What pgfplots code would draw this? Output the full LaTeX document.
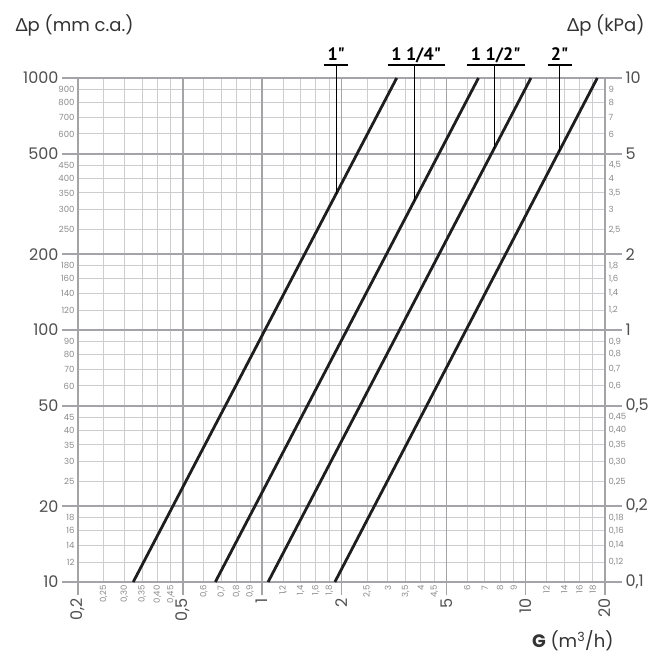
\documentclass[border=0pt]{standalone}
\usepackage{fontspec}
\setmainfont{Poppins}
\newfontfamily\grk{Lato}
\newfontfamily\lab{PT Sans}[Ligatures=TeXOff]
\usepackage{pgfplots}
\pgfplotsset{compat=1.18}

\definecolor{majgrid}{HTML}{A4A4A8}
\definecolor{mingrid}{HTML}{CDCDCF}
\definecolor{curve}{HTML}{1E1E1E}
\definecolor{lbl}{HTML}{505050}
\definecolor{smalllbl}{HTML}{8A8A8A}

\newcommand{\bigf}{\fontsize{16}{16}\selectfont}
\newcommand{\smallf}{\fontsize{8.5}{8.5}\selectfont}
\newcommand{\labf}{\lab\fontsize{18}{18}\selectfont\bfseries}

\begin{document}
\begin{tikzpicture}
\begin{axis}[width=527pt, height=504pt, scale only axis,
    xmode=log, ymode=log,
    xmin=0.2, xmax=20, ymin=10, ymax=1000,
    clip=false,
    axis line style={majgrid, line width=1.6pt},
    xtick pos=bottom, ytick pos=left,
    major tick length=0pt, minor tick length=0pt,
    grid=major,
    major grid style={mingrid, line width=1pt},
    xtick={0.25,0.3,0.35,0.4,0.45,0.6,0.7,0.8,0.9,1.2,1.4,1.6,1.8,2.5,3,3.5,4,4.5,6,7,8,9,12,14,16,18},
    xticklabels={{0,25},{0,30},{0,35},{0,40},{0,45},{0,6},{0,7},{0,8},{0,9},{1,2},{1,4},{1,6},{1,8},{2,5},3,{3,5},4,{4,5},6,7,8,9,12,14,16,18},
    ytick={12,14,16,18,25,30,35,40,45,60,70,80,90,120,140,160,180,250,300,350,400,450,600,700,800,900},
    yticklabels={12,14,16,18,25,30,35,40,45,60,70,80,90,120,140,160,180,250,300,350,400,450,600,700,800,900},
    xticklabel style={rotate=90, anchor=east, font=\smallf, text=smalllbl},
    yticklabel style={font=\smallf, text=smalllbl},
    extra x ticks={0.2,0.5,1,2,5,10,20},
    extra x tick labels={{0,2},{0,5},1,2,5,10,20},
    extra x tick style={grid=major, major grid style={majgrid, line width=1.6pt},
        tick align=outside, major tick length=13pt,
        tick style={majgrid, line width=1.6pt},
        xticklabel style={font=\bigf, text=lbl}},
    extra y ticks={10,20,50,100,200,500,1000},
    extra y tick labels={10,20,50,100,200,500,1000},
    extra y tick style={grid=major, major grid style={majgrid, line width=1.6pt},
        tick align=outside, major tick length=16pt,
        tick style={majgrid, line width=1.6pt},
        yticklabel style={font=\bigf, text=lbl}},
  ]
  \coordinate (ll) at (rel axis cs:0,0);
  \coordinate (ur) at (rel axis cs:1,1);

  % 1"
  \addplot[curve, line width=2.8pt] coordinates {(0.324,10) (3.24,1000)};
  % 1 1/4"
  \addplot[curve, line width=2.8pt] coordinates {(0.664,10) (6.62,1000)};
  % 1 1/2"
  \addplot[curve, line width=2.8pt] coordinates {(1.053,10) (10.47,1000)};
  % 2"
  \addplot[curve, line width=2.8pt] coordinates {(1.887,10) (18.7,1000)};

  % size labels with leaders
  \draw[line width=1.3pt] (axis cs:1.71,1126) -- (axis cs:2.11,1126);
  \draw[line width=1.1pt] (axis cs:1.91,1126) -- (axis cs:1.91,347);
  \node[anchor=base, yshift=5pt, font=\labf] at (axis cs:1.91,1126) {1"};

  \draw[line width=1.3pt] (axis cs:2.99,1126) -- (axis cs:4.92,1126);
  \draw[line width=1.1pt] (axis cs:3.79,1126) -- (axis cs:3.79,326);
  \node[anchor=base, yshift=5pt, font=\labf] at (axis cs:3.84,1126) {1 1/4"};

  \draw[line width=1.3pt] (axis cs:5.98,1126) -- (axis cs:9.92,1126);
  \draw[line width=1.1pt] (axis cs:7.61,1126) -- (axis cs:7.61,522);
  \node[anchor=base, yshift=5pt, font=\labf] at (axis cs:7.7,1126) {1 1/2"};

  \draw[line width=1.3pt] (axis cs:12.1,1126) -- (axis cs:14.96,1126);
  \draw[line width=1.1pt] (axis cs:13.45,1126) -- (axis cs:13.45,508);
  \node[anchor=base, yshift=5pt, font=\labf] at (axis cs:13.45,1126) {2"};

  % axis titles
  \node[anchor=base west, xshift=-66pt, yshift=46pt, font=\fontsize{18}{18}\selectfont, text=black!80]
    at (rel axis cs:0,1) {{\grk Δ}p (mm c.a.)};
  \node[anchor=base east, xshift=43pt, yshift=46pt, font=\fontsize{18}{18}\selectfont, text=black!80]
    at (rel axis cs:1,1) {{\grk Δ}p (kPa)};
  \node[anchor=base east, xshift=12pt, yshift=-66pt, font=\fontsize{18}{18}\selectfont, text=black!80]
    at (rel axis cs:1,0) {{\bfseries G} (m\textsuperscript{3}/h)};
\end{axis}

% right scale in kPa
\begin{axis}[width=527pt, height=504pt, scale only axis,
    xmode=log, ymode=log,
    xmin=0.2, xmax=20, ymin=0.1, ymax=10,
    axis x line=none, axis y line*=right,
    axis line style={-, majgrid, line width=1.6pt},
    major tick length=0pt, minor tick length=0pt,
    ytick={0.12,0.14,0.16,0.18,0.25,0.3,0.35,0.4,0.45,0.6,0.7,0.8,0.9,1.2,1.4,1.6,1.8,2.5,3,3.5,4,4.5,6,7,8,9},
    yticklabels={{0,12},{0,14},{0,16},{0,18},{0,25},{0,30},{0,35},{0,40},{0,45},{0,6},{0,7},{0,8},{0,9},{1,2},{1,4},{1,6},{1,8},{2,5},3,{3,5},4,{4,5},6,7,8,9},
    yticklabel style={font=\smallf, text=smalllbl},
    extra y ticks={0.1,0.2,0.5,1,2,5,10},
    extra y tick labels={{0,1},{0,2},{0,5},1,2,5,10},
    extra y tick style={tick align=outside, major tick length=17pt,
        tick style={majgrid, line width=1.6pt},
        yticklabel style={font=\bigf, text=lbl}},
  ]
\end{axis}

\pgfresetboundingbox
\path[use as bounding box] ([shift={(-78pt,-77pt)}]ll) rectangle ([shift={(48pt,78pt)}]ur);
\end{tikzpicture}
\end{document}
